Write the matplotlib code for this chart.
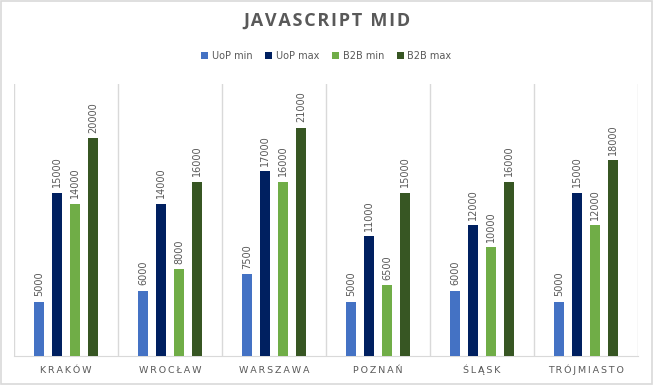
import matplotlib
matplotlib.use("Agg")
import matplotlib.pyplot as plt
from matplotlib.patches import Rectangle
import numpy as np

categories = ["KRAKÓW", "WROCŁAW", "WARSZAWA", "POZNAŃ", "ŚLĄSK", "TRÓJMIASTO"]
series_names = ["UoP min", "UoP max", "B2B min", "B2B max"]
uop_min = [5000, 6000, 7500, 5000, 6000, 5000]
uop_max = [15000, 14000, 17000, 11000, 12000, 15000]
b2b_min = [14000, 8000, 16000, 6500, 10000, 12000]
b2b_max = [20000, 16000, 21000, 15000, 16000, 18000]
colors = ["#4472C4", "#002060", "#70AD47", "#375623"]

fig = plt.figure(figsize=(6.53, 3.85), dpi=100)
fig.patch.set_facecolor("white")
fig.patches.append(Rectangle((0.0015, 0.0025), 0.997, 0.995, transform=fig.transFigure,
                             fill=False, edgecolor="#D9D9D9", linewidth=1.2))

ax = fig.add_axes([14/653, 29/385, 624/653, 272/385])
x = np.arange(len(categories))
width = 10/104
step = 18/104
all_series = [uop_min, uop_max, b2b_min, b2b_max]
for i, (vals, name, c) in enumerate(zip(all_series, series_names, colors)):
    pos = x + (i - 1.5) * step
    bars = ax.bar(pos, vals, width=width, color=c, label=name, zorder=3)
    for b, v in zip(bars, vals):
        ax.text(b.get_x() + b.get_width()/2, v + 500, str(v), rotation=90,
                ha="center", va="bottom", fontsize=7, color="#595959")

ax.set_xlim(-0.5, len(categories) - 0.5)
ax.set_ylim(0, 25000)
ax.set_yticks([])
ax.set_xticks(x)
ax.set_xticklabels([])
ax.tick_params(axis="x", length=0)
trans = ax.get_xaxis_transform()
for xi, c in zip(x, categories):
    ax.text(xi, -17/272, "\u2009".join(c), transform=trans, ha="center", va="baseline",
            fontsize=6.8, color="#595959", family=["DejaVu Sans"])
for b in np.arange(-0.5, len(categories), 1.0):
    ax.axvline(b, color="#D9D9D9", linewidth=1, zorder=1)
for s in ["top", "right", "left"]:
    ax.spines[s].set_visible(False)
ax.spines["bottom"].set_color("#D9D9D9")

fig.text(0.5, 1 - 21/385, "\u200a".join("JAVASCRIPT MID"),
         ha="center", va="center", fontsize=13, fontweight="bold", color="#595959",
         family=["Open Sans", "DejaVu Sans"])

fig.legend(loc="center", bbox_to_anchor=(0.5, 1 - 56/385), ncol=4, frameon=False,
           fontsize=7, handlelength=0.7, handleheight=0.7, handletextpad=0.4,
           columnspacing=1.3, labelcolor="#595959")

fig.savefig("out.png", dpi=100)
